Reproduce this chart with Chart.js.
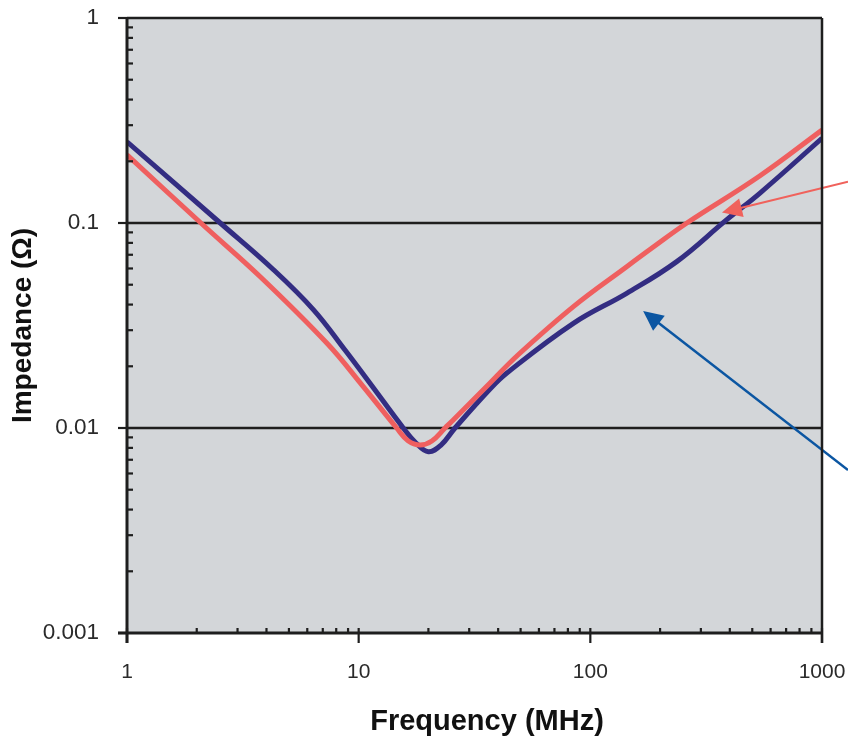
<!DOCTYPE html>
<html><head><meta charset="utf-8">
<script src="https://cdn.jsdelivr.net/npm/chart.js@4.4.1/dist/chart.umd.min.js"></script>
<style>html,body{margin:0;padding:0;background:#fff}#wrap{width:848px;height:738px;position:relative}</style>
</head><body><div id="wrap"><canvas id="c"></canvas></div>
<script>
// ---- data ----
const xTickLabels = [1, 10, 100, 1000];
const yTickLabels = [0.001, 0.01, 0.1, 1];
const yGridLines = [0.01, 0.1];
const xTitle = 'Frequency (MHz)';
const yTitle = 'Impedance (Ω)';
const redFreq = [1, 2.107, 3.76, 7.3, 10.34, 14.59, 16.33, 18.4, 20.7, 23.6, 25.6, 36.9, 48.7, 84.5, 143.5, 187, 261, 540, 1000];
const redZ    = [0.215, 0.0989, 0.0547, 0.0259, 0.0162, 0.01, 0.00867, 0.00826, 0.00864, 0.01, 0.01094, 0.01658, 0.0227, 0.0391, 0.0612, 0.0763, 0.1, 0.17, 0.284];
const blueFreq = [1, 2.527, 4.30, 6.4, 8.73, 11.42, 15.58, 17.68, 19.98, 22.67, 26.05, 36.9, 43.5, 84.5, 143.5, 236, 387, 540, 1000];
const blueZ    = [0.249, 0.1, 0.059, 0.0376, 0.024, 0.01603, 0.01, 0.00845, 0.00766, 0.00826, 0.01, 0.0155, 0.0185, 0.0324, 0.0454, 0.0648, 0.1035, 0.14, 0.259];
// annotation arrows in data units: [tailFreq, tailZ, tipFreq, tipZ]
const redArrow  = [1295, 0.159, 370, 0.1125];
const blueArrow = [1295, 0.00624, 169, 0.0372];

const toPts = (xs, ys) => xs.map((x, i) => ({x, y: ys[i]}));

function drawArrow(chart, a, color, width) {
  const {ctx, scales:{x, y}} = chart;
  const x0 = x.getPixelForValue(a[0]), y0 = y.getPixelForValue(a[1]);
  const x1 = x.getPixelForValue(a[2]), y1 = y.getPixelForValue(a[3]);
  const ang = Math.atan2(y1 - y0, x1 - x0);
  const L = 20, W = 9.5;
  const bx = x1 - L * Math.cos(ang), by = y1 - L * Math.sin(ang);
  ctx.save();
  ctx.strokeStyle = color; ctx.fillStyle = color; ctx.lineWidth = width;
  ctx.beginPath(); ctx.moveTo(x0, y0); ctx.lineTo(bx + 2*Math.cos(ang), by + 2*Math.sin(ang)); ctx.stroke();
  ctx.beginPath();
  ctx.moveTo(x1, y1);
  ctx.lineTo(bx + W * Math.sin(ang), by - W * Math.cos(ang));
  ctx.lineTo(bx - W * Math.sin(ang), by + W * Math.cos(ang));
  ctx.closePath(); ctx.fill();
  ctx.restore();
}

const decorate = {
  id: 'decorate',
  beforeDatasetsDraw(chart) {
    const {ctx, chartArea: a, scales: {y}} = chart;
    ctx.save();
    ctx.fillStyle = '#d3d6d9';
    ctx.fillRect(a.left, a.top, a.right - a.left, a.bottom - a.top);
    ctx.strokeStyle = '#1e1e1e'; ctx.lineWidth = 2.5;
    yGridLines.forEach(v => {
      const py = y.getPixelForValue(v);
      ctx.beginPath(); ctx.moveTo(a.left, py); ctx.lineTo(a.right, py); ctx.stroke();
    });
    ctx.restore();
  },
  afterDatasetsDraw(chart) {
    const {ctx, chartArea: a, scales: {x, y}} = chart;
    drawArrow(chart, redArrow, '#f0625c', 2);
    drawArrow(chart, blueArrow, '#0b56a2', 2.5);
    ctx.save();
    ctx.strokeStyle = '#1e1e1e';
    // frame
    ctx.lineWidth = 2.5;
    ctx.beginPath(); ctx.moveTo(a.right, a.top); ctx.lineTo(a.left, a.top); ctx.stroke();
    ctx.beginPath(); ctx.moveTo(a.right, a.top); ctx.lineTo(a.right, a.bottom + 10); ctx.stroke();
    ctx.lineWidth = 3;
    ctx.beginPath(); ctx.moveTo(a.left, a.top - 1); ctx.lineTo(a.left, a.bottom + 10); ctx.stroke();
    ctx.beginPath(); ctx.moveTo(a.left - 9, a.bottom); ctx.lineTo(a.right + 1, a.bottom); ctx.stroke();
    // y ticks
    ctx.lineWidth = 2.2;
    for (let d = -3; d < 0; d++) {
      for (let m = 2; m <= 9; m++) {
        const py = y.getPixelForValue(m * Math.pow(10, d));
        ctx.beginPath(); ctx.moveTo(a.left, py); ctx.lineTo(a.left + 6, py); ctx.stroke();
      }
    }
    yTickLabels.forEach(v => {
      const py = y.getPixelForValue(v);
      ctx.beginPath(); ctx.moveTo(a.left - 9, py); ctx.lineTo(a.left, py); ctx.stroke();
    });
    // x ticks
    for (let d = 0; d < 3; d++) {
      for (let m = 2; m <= 9; m++) {
        const px = x.getPixelForValue(m * Math.pow(10, d));
        ctx.beginPath(); ctx.moveTo(px, a.bottom - 5); ctx.lineTo(px, a.bottom); ctx.stroke();
      }
    }
    xTickLabels.forEach(v => {
      const px = x.getPixelForValue(v);
      ctx.beginPath(); ctx.moveTo(px, a.bottom - 5); ctx.lineTo(px, a.bottom + 10); ctx.stroke();
    });
    // x axis title
    ctx.fillStyle = '#111';
    ctx.font = 'bold 29px "Liberation Sans", Arial, sans-serif';
    ctx.textAlign = 'center'; ctx.textBaseline = 'middle';
    ctx.fillText(xTitle, (a.left + a.right) / 2 + 12.5, 722);
    ctx.restore();
  }
};

const zeroPad = s => { s.paddingLeft = 0; s.paddingRight = 0; s.paddingTop = 0; s.paddingBottom = 0; };

new Chart(document.getElementById('c'), {
  type: 'scatter',
  data: {
    datasets: [
      { data: toPts(redFreq, redZ), showLine: true, borderColor: '#ef5f5f', borderWidth: 5, pointRadius: 0, tension: 0.4, borderJoinStyle: 'round' },
      { data: toPts(blueFreq, blueZ), showLine: true, borderColor: '#332d82', borderWidth: 5, pointRadius: 0, tension: 0.4, borderJoinStyle: 'round' }
    ]
  },
  options: {
    responsive: true, maintainAspectRatio: false, animation: false,
    layout: { padding: { left: 0, right: 26, top: 18, bottom: 0 } },
    plugins: { legend: { display: false }, tooltip: { enabled: false } },
    scales: {
      x: {
        type: 'logarithmic', min: 1, max: 1000,
        afterBuildTicks: s => { s.ticks = xTickLabels.map(v => ({value: v})); },
        afterFit: s => { s.height = 105; zeroPad(s); },
        grid: { display: false, drawTicks: false },
        border: { display: false },
        ticks: { autoSkip: false, maxRotation: 0, padding: 27, color: '#2a2a2a', font: { family: 'Liberation Sans', size: 21 }, callback: v => String(v) },
        title: { display: false }
      },
      y: {
        type: 'logarithmic', min: 0.001, max: 1,
        afterBuildTicks: s => { s.ticks = yTickLabels.map(v => ({value: v})); },
        afterFit: s => { s.width = 127; zeroPad(s); },
        grid: { display: false, drawTicks: false },
        border: { display: false },
        ticks: { autoSkip: false, padding: 28, color: '#2a2a2a', font: { family: 'Liberation Sans', size: 22.5 }, callback: v => String(v) },
        title: { display: true, text: yTitle, color: '#111', font: { family: 'Liberation Sans', size: 28, weight: 'bold' }, padding: { top: 6, bottom: 0 } }
      }
    }
  },
  plugins: [decorate]
});
</script>
</body></html>
